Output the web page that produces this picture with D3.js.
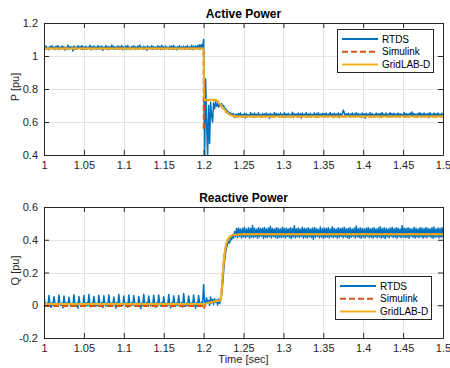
<!DOCTYPE html>
<html>
<head>
<meta charset="utf-8">
<script src="https://cdn.jsdelivr.net/npm/d3@7"></script>
<style>
    body { margin: 0; background: #fff; }
    svg { display: block; font-family: "Liberation Sans", Arial, sans-serif; }
    .axis text { font-size: 11px; fill: #262626; }
    .axis line, .axis path { stroke: #262626; }
</style>
</head>
<body>
<div class="container"></div>
<script>
// sample step of the RTDS record (sec)
var rtdsStep = 0.00125;

var xTicks = [1, 1.05, 1.1, 1.15, 1.2, 1.25, 1.3, 1.35, 1.4, 1.45, 1.5];
var pTicks = [0.4, 0.6, 0.8, 1, 1.2];
var qTicks = [-0.2, 0, 0.2, 0.4, 0.6];
var seriesNames = ["RTDS", "Simulink", "GridLAB-D"];

// RTDS active power, one value every rtdsStep from t = 1
var rtdsP = [
    1.056,1.041,1.060,1.044,1.053,1.038,1.058,1.046,1.062,1.042,
    1.055,1.040,1.059,1.047,1.063,1.039,1.054,1.043,1.061,1.045,
    1.057,1.036,1.052,1.044,1.066,1.041,1.058,1.047,1.055,1.030,
    1.060,1.043,1.054,1.040,1.062,1.046,1.057,1.042,1.064,1.039,
    1.056,1.044,1.059,1.041,1.053,1.047,1.065,1.038,1.058,1.045,
    1.061,1.042,1.055,1.040,1.063,1.046,1.057,1.043,1.060,1.034,
    1.054,1.045,1.062,1.041,1.058,1.039,1.056,1.047,1.067,1.043,
    1.059,1.040,1.055,1.044,1.061,1.042,1.057,1.046,1.063,1.038,
    1.055,1.043,1.060,1.041,1.064,1.045,1.053,1.040,1.058,1.047,
    1.062,1.039,1.056,1.044,1.060,1.042,1.066,1.046,1.054,1.041,
    1.059,1.043,1.057,1.035,1.061,1.045,1.055,1.042,1.063,1.040,
    1.058,1.046,1.054,1.041,1.062,1.044,1.057,1.039,1.065,1.043,
    1.056,1.042,1.060,1.047,1.053,1.040,1.059,1.044,1.061,1.041,
    1.064,1.045,1.055,1.038,1.058,1.043,1.062,1.046,1.056,1.042,
    1.060,1.040,1.057,1.045,1.063,1.041,1.055,1.044,1.066,1.039,
    1.059,1.043,1.061,1.046,1.064,1.042,1.068,1.045,1.070,1.048,
    // fault at t = 1.2
    1.100,0.380,0.860,0.600,0.380,0.700,0.470,0.720,0.640,0.600,
    0.715,0.680,0.720,0.695,0.712,0.690,0.708,0.702,0.712,0.695,
    0.700,0.684,0.682,0.668,0.668,0.655,0.658,0.645,0.652,0.640,
    0.650,0.628,0.645,
    0.648,0.633,0.652,0.637,0.655,0.631,0.646,0.640,0.653,0.626,
    0.650,0.636,0.644,0.632,0.657,0.638,0.649,0.630,0.654,0.641,
    0.647,0.634,0.656,0.639,0.645,0.629,0.652,0.637,0.650,0.633,
    0.655,0.640,0.648,0.622,0.653,0.636,0.646,0.632,0.658,0.639,
    0.651,0.635,0.649,0.631,0.654,0.641,0.647,0.634,0.656,0.628,
    0.650,0.638,0.653,0.633,0.645,0.637,0.659,0.630,0.652,0.640,
    0.648,0.632,0.655,0.639,0.650,0.624,0.654,0.636,0.647,0.641,
    0.657,0.634,0.649,0.638,0.653,0.631,0.646,0.640,0.655,0.635,
    0.651,0.629,0.656,0.637,0.648,0.633,0.652,0.639,0.652,0.636,
    0.654,0.632,0.647,0.640,0.657,0.635,0.650,0.630,0.653,0.638,
    0.649,0.634,0.655,0.627,0.651,0.639,0.646,0.672,0.657,0.636,
    0.650,0.641,0.653,0.631,0.648,0.637,0.655,0.634,0.649,0.640,
    0.656,0.632,0.651,0.638,0.647,0.630,0.654,0.636,0.650,0.623,
    0.653,0.639,0.648,0.633,0.657,0.635,0.651,0.640,0.646,0.631,
    0.655,0.637,0.650,0.634,0.652,0.629,0.658,0.638,0.647,0.636,
    0.654,0.632,0.649,0.640,0.656,0.635,0.651,0.630,0.653,0.639,
    0.648,0.636,0.655,0.631,0.650,0.641,0.646,0.634,0.657,0.628,
    0.652,0.638,0.649,0.633,0.654,0.637,0.660,0.635,0.651,0.640,
    0.647,0.632,0.653,0.639,0.656,0.630,0.650,0.636,0.655,0.634,
    0.649,0.641,0.652,0.627,0.657,0.638,0.648,0.633,0.654,0.636,
    0.650,0.631,0.655,0.639,0.647,0.634,0.653,0.640
];

// RTDS reactive power, same sampling
var rtdsQ = [
    0.055,0.010,-0.004,0.013,-0.002,0.060,0.008,-0.012,0.015,0.000,
    0.052,0.014,-0.005,0.011,-0.003,0.062,0.009,-0.002,0.013,-0.016,
    0.057,0.011,-0.004,0.015,0.001,0.049,0.012,-0.006,0.010,-0.001,
    0.064,0.008,-0.003,0.014,-0.018,0.053,0.013,-0.005,0.011,0.000,
    0.059,0.010,-0.004,0.015,-0.002,0.066,0.009,-0.010,0.012,-0.001,
    0.054,0.014,-0.006,0.011,-0.003,0.061,0.010,-0.002,0.016,-0.014,
    0.058,0.012,-0.005,0.013,0.000,0.063,0.008,-0.004,0.014,-0.002,
    0.050,0.011,-0.017,0.015,-0.001,0.065,0.013,-0.005,0.010,-0.003,
    0.056,0.009,-0.004,0.014,-0.012,0.062,0.012,-0.003,0.015,0.000,
    0.059,0.010,-0.006,0.011,-0.002,0.054,0.014,-0.020,0.013,-0.001,
    0.067,0.008,-0.004,0.016,-0.003,0.057,0.011,-0.005,0.012,0.000,
    0.061,0.013,-0.013,0.014,-0.002,0.063,0.009,-0.004,0.015,-0.001,
    0.052,0.012,-0.006,0.011,-0.003,0.066,0.010,-0.015,0.014,0.000,
    0.058,0.014,-0.005,0.013,-0.002,0.060,0.008,-0.004,0.016,-0.011,
    0.072,0.011,-0.006,0.012,-0.001,0.057,0.013,-0.003,0.014,-0.002,
    0.063,0.009,-0.018,0.015,0.000,0.059,0.012,-0.004,0.020,0.010,
    // fault at t = 1.2
    0.125,0.020,0.008,0.045,0.012,0.030,0.000,0.050,0.015,0.035,
    0.005,0.040,0.018,0.032,0.002,0.038,0.010,0.030,0.060,0.120,
    0.200,0.270,0.320,0.350,0.375,0.390,0.380,0.410,0.400,0.430,
    0.410,0.450,0.420,
    0.468,0.414,0.472,0.420,0.465,0.411,0.470,0.418,0.476,0.413,
    0.466,0.421,0.473,0.409,0.469,0.416,0.487,0.412,0.471,0.419,
    0.464,0.410,0.474,0.417,0.468,0.422,0.470,0.408,0.475,0.415,
    0.467,0.413,0.472,0.419,0.482,0.411,0.469,0.420,0.466,0.414,
    0.473,0.409,0.470,0.416,0.465,0.412,0.477,0.418,0.468,0.410,
    0.471,0.421,0.466,0.413,0.474,0.408,0.469,0.417,0.485,0.412,
    0.467,0.419,0.472,0.414,0.465,0.420,0.476,0.410,0.470,0.416,
    0.468,0.411,0.473,0.418,0.466,0.413,0.471,0.404,0.475,0.415,
    0.469,0.420,0.464,0.412,0.478,0.417,0.467,0.409,0.472,0.414,
    0.470,0.416,0.474,0.411,0.466,0.419,0.480,0.413,0.468,0.418,
    0.465,0.410,0.473,0.415,0.469,0.421,0.471,0.412,0.476,0.417,
    0.467,0.413,0.470,0.408,0.474,0.416,0.466,0.420,0.472,0.411,
    0.484,0.418,0.468,0.414,0.473,0.409,0.469,0.417,0.465,0.412,
    0.471,0.420,0.475,0.413,0.467,0.416,0.470,0.410,0.474,0.419,
    0.466,0.412,0.472,0.417,0.479,0.411,0.468,0.415,0.473,0.408,
    0.469,0.418,0.465,0.413,0.471,0.420,0.476,0.414,0.467,0.416,
    0.474,0.410,0.470,0.419,0.466,0.412,0.486,0.417,0.472,0.413,
    0.468,0.415,0.473,0.409,0.469,0.421,0.465,0.414,0.477,0.411,
    0.470,0.417,0.466,0.413,0.474,0.418,0.471,0.410,0.468,0.416,
    0.475,0.412,0.469,0.420,0.467,0.414,0.473,0.409,0.478,0.415,
    0.466,0.418,0.472,0.411,0.469,0.416,0.474,0.413
];

// simulated curves, [time, value] breakpoints
var simulinkP = [[1,1.045],[1.2,1.045],[1.2003,0.55],[1.2008,0.70],[1.2015,0.732],[1.214,0.732],[1.218,0.722],
    [1.222,0.698],[1.226,0.673],[1.23,0.654],[1.234,0.641],[1.238,0.635],[1.242,0.633],[1.5,0.633]];
var gridlabP = [[1,1.045],[1.2,1.045],[1.2006,0.735],[1.214,0.735],[1.218,0.725],[1.222,0.70],[1.226,0.675],
    [1.23,0.655],[1.234,0.642],[1.238,0.636],[1.242,0.633],[1.5,0.633]];
var simulinkQ = [[1,-0.004],[1.2,-0.004],[1.2005,-0.02],[1.202,0.008],[1.21,0.018],[1.2205,0.026],[1.222,0.05],
    [1.224,0.19],[1.226,0.30],[1.228,0.365],[1.23,0.398],[1.233,0.418],[1.236,0.427],[1.24,0.431],[1.25,0.433],[1.5,0.433]];
var gridlabQ = [[1,0.008],[1.2,0.008],[1.205,0.014],[1.21,0.019],[1.215,0.024],[1.2205,0.029],[1.222,0.05],
    [1.224,0.19],[1.226,0.30],[1.228,0.365],[1.23,0.398],[1.233,0.418],[1.236,0.427],[1.24,0.431],[1.25,0.433],[1.5,0.433]];

var chart = {
    config: {
        width: 450,
        height: 368,
        left: 44,
        right: 443,
        colors: { "RTDS": "#0072BD", "Simulink": "#D95319", "GridLAB-D": "#EDB120" },
        panels: [
            { id: "p", title: "Active Power", label: "P [pu]", top: 23, bottom: 155, domain: [0.4, 1.2], ticks: pTicks,
              rtds: rtdsP, simulink: simulinkP, gridlab: gridlabP, legend: { x: 337, y: 29 } },
            { id: "q", title: "Reactive Power", label: "Q [pu]", top: 207, bottom: 338, domain: [-0.2, 0.6], ticks: qTicks,
              rtds: rtdsQ, simulink: simulinkQ, gridlab: gridlabQ, legend: { x: 335, y: 276 } }
        ]
    },

    fmt: (d) => String(+d.toFixed(2)),

    drawPanel: (svg, p) => {
        var c = chart.config;
        var x = d3.scaleLinear().domain([1, 1.5]).range([c.left, c.right]);
        var y = d3.scaleLinear().domain(p.domain).range([p.bottom, p.top]);

        svg.append("clipPath").attr("id", "clip-" + p.id)
            .append("rect")
            .attr("x", c.left).attr("y", p.top)
            .attr("width", c.right - c.left).attr("height", p.bottom - p.top);

        // grid
        var grid = svg.append("g").attr("stroke", "#e3e3e3").attr("stroke-width", 1);
        grid.selectAll(".gx").data(xTicks).join("line")
            .attr("x1", (d) => Math.round(x(d)) + 0.5).attr("x2", (d) => Math.round(x(d)) + 0.5)
            .attr("y1", p.top).attr("y2", p.bottom);
        grid.selectAll(".gy").data(p.ticks).join("line")
            .attr("x1", c.left).attr("x2", c.right)
            .attr("y1", (d) => Math.round(y(d)) + 0.5).attr("y2", (d) => Math.round(y(d)) + 0.5);

        var plot = svg.append("g").attr("clip-path", "url(#clip-" + p.id + ")").attr("fill", "none");

        var line = d3.line().x((d) => x(d[0])).y((d) => y(d[1]));
        var rtdsPts = p.rtds.map((v, i) => [1 + i * rtdsStep, v]);

        plot.append("path").datum(rtdsPts)
            .attr("d", line)
            .attr("stroke", c.colors["RTDS"]).attr("stroke-width", 1.5)
            .attr("stroke-linejoin", "round");
        plot.append("path").datum(p.simulink)
            .attr("d", line)
            .attr("stroke", c.colors["Simulink"]).attr("stroke-width", 2)
            .attr("stroke-dasharray", "6,3");
        plot.append("path").datum(p.gridlab)
            .attr("d", line.curve(d3.curveMonotoneX))
            .attr("stroke", c.colors["GridLAB-D"]).attr("stroke-width", 2);

        // axes with inward ticks on all four sides
        svg.append("g").attr("class", "axis")
            .attr("transform", `translate(0,${p.bottom})`)
            .call(d3.axisBottom(x).tickValues(xTicks).tickFormat(chart.fmt)
                .tickSizeInner(-5).tickSizeOuter(0).tickPadding(6));
        svg.append("g").attr("class", "axis")
            .attr("transform", `translate(0,${p.top})`)
            .call(d3.axisTop(x).tickValues(xTicks).tickFormat("")
                .tickSizeInner(-5).tickSizeOuter(0));
        svg.append("g").attr("class", "axis")
            .attr("transform", `translate(${c.left},0)`)
            .call(d3.axisLeft(y).tickValues(p.ticks).tickFormat(chart.fmt)
                .tickSizeInner(-5).tickSizeOuter(0).tickPadding(6));
        svg.append("g").attr("class", "axis")
            .attr("transform", `translate(${c.right},0)`)
            .call(d3.axisRight(y).tickValues(p.ticks).tickFormat("")
                .tickSizeInner(-5).tickSizeOuter(0));
        svg.selectAll(".axis .domain").attr("stroke-width", 1);

        svg.append("text")
            .attr("x", (c.left + c.right) / 2).attr("y", p.top - 5)
            .attr("text-anchor", "middle")
            .attr("font-size", "12px").attr("font-weight", "bold").attr("fill", "#000")
            .text(p.title);

        svg.append("text")
            .attr("transform", `translate(19,${(p.top + p.bottom) / 2 - 2}) rotate(-90)`)
            .attr("text-anchor", "middle")
            .attr("font-size", "11px").attr("fill", "#262626")
            .text(p.label);

        chart.drawLegend(svg, p.legend);
    },

    drawLegend: (svg, pos) => {
        var c = chart.config;
        var g = svg.append("g").attr("transform", `translate(${pos.x},${pos.y})`);
        g.append("rect")
            .attr("x", 0.5).attr("y", 0.5).attr("width", 96).attr("height", 43)
            .attr("fill", "#fff").attr("stroke", "#262626").attr("stroke-width", 1);
        seriesNames.forEach((name, i) => {
            var yy = 10 + i * 12.8;
            g.append("line")
                .attr("x1", 5).attr("x2", 41).attr("y1", yy).attr("y2", yy)
                .attr("stroke", c.colors[name]).attr("stroke-width", 2)
                .attr("stroke-dasharray", name === "Simulink" ? "6,3" : null);
            g.append("text")
                .attr("x", 45).attr("y", yy).attr("dy", "0.35em")
                .attr("font-size", "10px").attr("fill", "#000")
                .text(name);
        });
    }
};

var svg = d3.select(".container").append("svg")
    .attr("width", chart.config.width)
    .attr("height", chart.config.height);

chart.config.panels.forEach((p) => chart.drawPanel(svg, p));

svg.append("text")
    .attr("x", (chart.config.left + chart.config.right) / 2).attr("y", 362.5)
    .attr("text-anchor", "middle")
    .attr("font-size", "11px").attr("fill", "#262626")
    .text("Time [sec]");
</script>
</body>
</html>
